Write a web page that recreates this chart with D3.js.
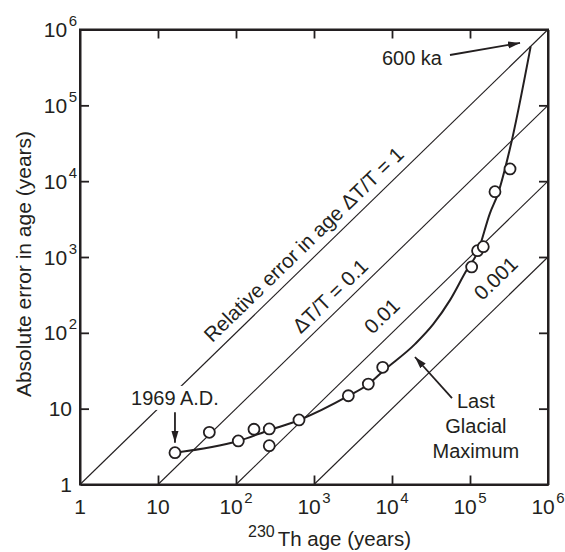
<!DOCTYPE html>
<html>
<head>
<meta charset="utf-8">
<script src="https://cdn.jsdelivr.net/npm/d3@7"></script>
<style>
  html, body { margin: 0; padding: 0; background: #fff; }
  svg { display: block; font-family: "Liberation Sans", Arial, Helvetica, sans-serif; }
</style>
</head>
<body>
<svg id="chart" width="565" height="552"></svg>
<script>
// ---------- data ----------
const decades   = [1, 10, 100, 1e3, 1e4, 1e5, 1e6];
const tickBase  = ["1", "10", "10", "10", "10", "10", "10"];
const tickExp   = ["", "", "2", "3", "4", "5", "6"];

// measured samples: 230Th age (years) vs absolute error (years)
const obsAge = [16.5, 45.5, 107, 170, 267, 267, 642, 2755, 4970, 7600, 105000, 125000, 148000, 209000, 326000];
const obsErr = [2.63, 4.88, 3.75, 5.35, 5.4, 3.25, 7.1, 14.8, 21.1, 35.1, 740, 1210, 1368, 7270, 14500];

// hand-drawn trend curve
const curveAge = [16.5, 107, 267, 650, 2750, 4970, 7600, 20000, 33800, 55400, 90700, 125000, 180000, 228000, 322000, 600000];
const curveErr = [2.63, 3.75, 5.2, 7.1, 14.7, 21, 31, 72, 130, 270, 674, 1150, 3770, 6800, 25700, 600000];

// relative-error reference lines
const relRatios = [1, 0.1, 0.01, 0.001];
const relLabels = ["Relative error in age \u0394T/T = 1", "\u0394T/T = 0.1", "0.01", "0.001"];

// ---------- layout ----------
const W = 565, H = 552;
const L = 80, R = 548, T = 29.5, B = 484.5;
const ink = "#231f20";
const labelAt = [1030, 2200, 11000, 330000];   // x position of label centres on each line
const labelOff = [9, 8, 12, 14];               // perpendicular offset above line

const svg = d3.select("#chart");
const x = d3.scaleLog().domain([1, 1e6]).range([L, R]);
const y = d3.scaleLog().domain([1, 1e6]).range([B, T]);

svg.append("defs").append("marker")
  .attr("id", "ah").attr("markerUnits", "userSpaceOnUse")
  .attr("viewBox", "0 -5 12 10").attr("refX", 12).attr("refY", 0)
  .attr("markerWidth", 12).attr("markerHeight", 10).attr("orient", "auto")
  .append("path").attr("d", "M0,-3.6L12,0L0,3.6Z").attr("fill", ink);

// ---------- relative error lines ----------
const gLines = svg.append("g");
relRatios.forEach(r => {
  gLines.append("line")
    .attr("x1", x(1 / r)).attr("y1", y(1))
    .attr("x2", x(1e6)).attr("y2", y(1e6 * r))
    .attr("stroke", ink).attr("stroke-width", 1.1);
});
relRatios.forEach((r, i) => {
  const ang = Math.atan2(y(1e6 * r) - y(1), x(1e6) - x(1 / r)) * 180 / Math.PI;
  const cx = x(labelAt[i]), cy = y(labelAt[i] * r);
  svg.append("text")
    .attr("transform", `translate(${cx},${cy}) rotate(${ang})`)
    .attr("x", 0).attr("y", -labelOff[i])
    .attr("text-anchor", "middle")
    .attr("font-size", 20.5).attr("fill", ink)
    .text(relLabels[i]);
});

// ---------- axes (inward ticks on all four sides) ----------
const tk = 9;
svg.append("g").attr("transform", `translate(0,${B})`)
  .call(d3.axisBottom(x).tickValues(decades.slice(1, -1)).tickSize(-tk).tickSizeOuter(0).tickFormat(""));
svg.append("g").attr("transform", `translate(0,${T})`)
  .call(d3.axisTop(x).tickValues(decades.slice(1, -1)).tickSize(-tk).tickSizeOuter(0).tickFormat(""));
svg.append("g").attr("transform", `translate(${L},0)`)
  .call(d3.axisLeft(y).tickValues(decades.slice(1, -1)).tickSize(-tk).tickSizeOuter(0).tickFormat(""));
svg.append("g").attr("transform", `translate(${R},0)`)
  .call(d3.axisRight(y).tickValues(decades.slice(1, -1)).tickSize(-tk).tickSizeOuter(0).tickFormat(""));
svg.selectAll(".domain").attr("stroke", ink).attr("stroke-width", 2);
svg.selectAll(".tick line").attr("stroke", ink).attr("stroke-width", 1.8);
svg.selectAll(".tick text").remove();
svg.append("rect").attr("x", L).attr("y", T).attr("width", R - L).attr("height", B - T)
  .attr("fill", "none").attr("stroke", ink).attr("stroke-width", 2);

// tick labels
decades.forEach((v, i) => {
  const tx = svg.append("text").attr("x", x(v)).attr("y", 514)
    .attr("text-anchor", "middle").attr("font-size", 21).attr("fill", ink);
  tx.append("tspan").text(tickBase[i]);
  if (tickExp[i]) tx.append("tspan").attr("dx", 1.5).attr("dy", -11).attr("font-size", 15).text(tickExp[i]);

  const ty = svg.append("text").attr("x", tickExp[i] ? 77 : 72).attr("y", y(v) + 7.5)
    .attr("text-anchor", "end").attr("font-size", 21).attr("fill", ink);
  ty.append("tspan").text(tickBase[i]);
  if (tickExp[i]) ty.append("tspan").attr("dx", 1.5).attr("dy", -11).attr("font-size", 15).text(tickExp[i]);
});

// axis titles
const xt = svg.append("text").attr("x", 248).attr("y", 537).attr("font-size", 16).attr("fill", ink);
xt.append("tspan").text("230");
xt.append("tspan").attr("dx", 3).attr("dy", 9).attr("font-size", 20.5).text("Th age (years)");

svg.append("text").attr("transform", "translate(31,264) rotate(-90)")
  .attr("text-anchor", "middle").attr("font-size", 21).attr("fill", ink)
  .text("Absolute error in age (years)");

// ---------- trend curve ----------
const curvePts = curveAge.map((a, i) => [a, curveErr[i]]);
svg.append("path").datum(curvePts)
  .attr("d", d3.line().x(d => x(d[0])).y(d => y(d[1])).curve(d3.curveMonotoneX))
  .attr("fill", "none").attr("stroke", ink).attr("stroke-width", 2);

// ---------- data points ----------
svg.append("g").selectAll("circle")
  .data(obsAge.map((a, i) => [a, obsErr[i]]))
  .join("circle")
  .attr("cx", d => x(d[0])).attr("cy", d => y(d[1])).attr("r", 5.5)
  .attr("fill", "#fff").attr("stroke", ink).attr("stroke-width", 1.8);

// ---------- annotations ----------
// 1969 A.D.
const t69 = svg.append("text").attr("x", x(16.5)).attr("y", y(11.2))
  .attr("text-anchor", "middle").attr("font-size", 20).attr("fill", ink).text("1969 A.D.");
const bb = t69.node().getBBox();
svg.insert("rect", () => t69.node())
  .attr("x", bb.x - 2).attr("y", bb.y - 1).attr("width", bb.width + 4).attr("height", bb.height + 2)
  .attr("fill", "#fff");
svg.append("line").attr("x1", x(16.5)).attr("y1", y(9.0)).attr("x2", x(16.5)).attr("y2", y(3.55))
  .attr("stroke", ink).attr("stroke-width", 1.8).attr("marker-end", "url(#ah)");

// 600 ka
svg.append("text").attr("x", x(43700)).attr("y", y(340000))
  .attr("text-anchor", "end").attr("font-size", 20).attr("fill", ink).text("600 ka");
svg.append("line").attr("x1", x(55400)).attr("y1", y(461000)).attr("x2", x(438000)).attr("y2", y(664000))
  .attr("stroke", ink).attr("stroke-width", 1.8).attr("marker-end", "url(#ah)");

// Last Glacial Maximum
["Last", "Glacial", "Maximum"].forEach((s, i) => {
  svg.append("text").attr("x", x(119000)).attr("y", y(10.2) + i * 25)
    .attr("text-anchor", "middle").attr("font-size", 20).attr("fill", ink).text(s);
});
svg.append("line").attr("x1", x(58800)).attr("y1", y(13.8)).attr("x2", x(19700)).attr("y2", y(48))
  .attr("stroke", ink).attr("stroke-width", 1.8).attr("marker-end", "url(#ah)");
</script>
</body>
</html>
